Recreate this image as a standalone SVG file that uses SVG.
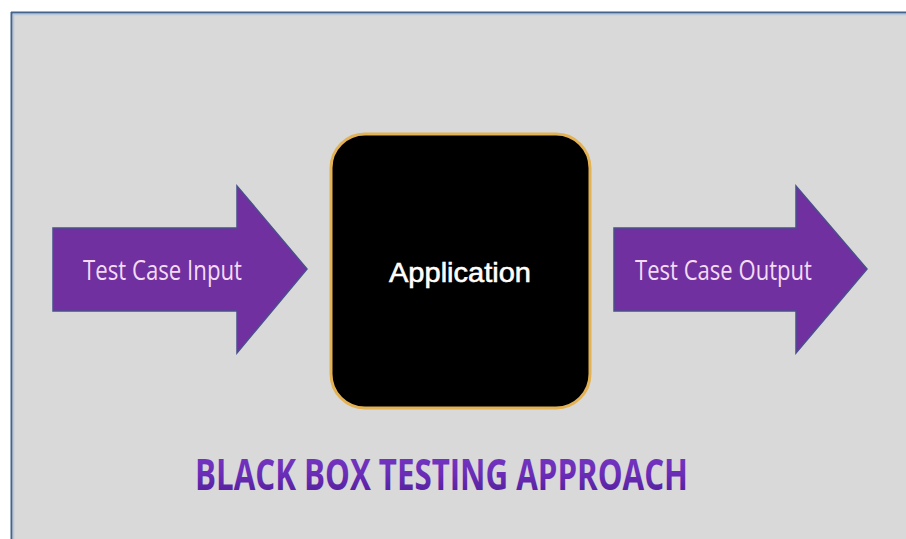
<svg xmlns="http://www.w3.org/2000/svg" width="906" height="539" viewBox="0 0 906 539">
  <defs>
    <linearGradient id="titleGrad" x1="0" y1="0" x2="0" y2="1">
      <stop offset="0" stop-color="#7a3cc4"/>
      <stop offset="0.5" stop-color="#6b2db8"/>
      <stop offset="1" stop-color="#4a1a90"/>
    </linearGradient>
  </defs>
  <style>
    .arrow { fill: #7030a0; stroke: #4a4f8c; stroke-width: 1.5; }
    .arrowText { font-family: "Open Sans", "Liberation Sans", sans-serif; font-size: 27px; fill: #f3dcf3; }
    .title { font-family: "Open Sans", "Liberation Sans", sans-serif; font-weight: bold; font-size: 43px; }
  </style>
  <rect x="0" y="0" width="906" height="539" fill="#ffffff"/>
  <rect x="11" y="12" width="895" height="527" fill="#d9d9d9"/>
  <line x1="11" y1="12.5" x2="906" y2="12.5" stroke="#45648c" stroke-width="2"/>
  <line x1="11" y1="14.5" x2="906" y2="14.5" stroke="#b9c8dc" stroke-width="1.5"/>
  <line x1="11.5" y1="12" x2="11.5" y2="539" stroke="#45648c" stroke-width="2"/>
  <line x1="13.5" y1="14" x2="13.5" y2="539" stroke="#b9c8dc" stroke-width="1.5"/>

  <g id="connectors">
    <g id="input-arrow">
      <polygon class="arrow" points="53,228 237,228 237,186 307,269 237,353 237,311 53,311"/>
      <text class="arrowText" x="83" y="280" textLength="159" lengthAdjust="spacingAndGlyphs">Test Case Input</text>
    </g>
    <g id="output-arrow">
      <polygon class="arrow" points="614,228 796,228 796,186 867,269 796,353 796,311 614,311"/>
      <text class="arrowText" x="635" y="280" textLength="177" lengthAdjust="spacingAndGlyphs">Test Case Output</text>
    </g>
  </g>

  <g id="application">
    <rect x="331" y="134" width="259" height="274" rx="34" ry="34" fill="#000000" stroke="#e3b255" stroke-width="3"/>
    <text x="460" y="282" text-anchor="middle" font-family="Liberation Sans, Arial, sans-serif" font-size="28" fill="#ffffff" stroke="#ffffff" stroke-width="0.6" textLength="142" lengthAdjust="spacingAndGlyphs">Application</text>
  </g>

  <g id="title">
    <text class="title" x="195" y="490" fill="url(#titleGrad)" textLength="493" lengthAdjust="spacingAndGlyphs">BLACK BOX TESTING APPROACH</text>
  </g>
</svg>
